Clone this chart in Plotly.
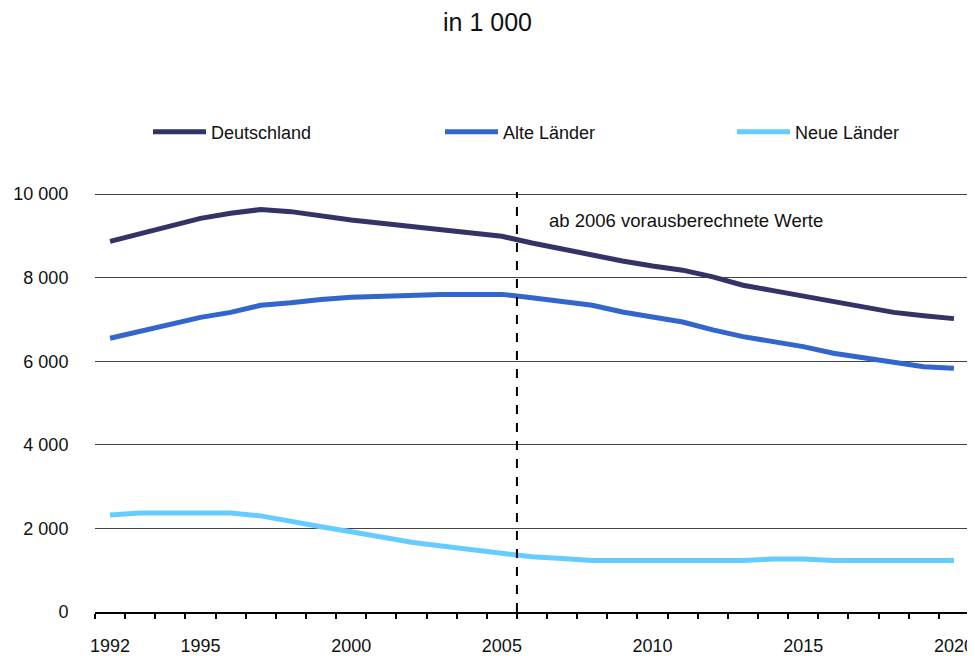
import plotly.graph_objects as go

years = list(range(1992, 2021))
deutschland = [8870, 9060, 9260, 9420, 9540, 9630, 9580, 9470, 9380, 9300, 9220, 9140, 9070,
               8990, 8830, 8680, 8540, 8400, 8280, 8180, 8020, 7820, 7690, 7560, 7420, 7290,
               7170, 7090, 7020]
alte_laender = [6550, 6710, 6880, 7050, 7170, 7340, 7400, 7480, 7530, 7560, 7560, 7600, 7600,
                7600, 7520, 7440, 7340, 7180, 7050, 6940, 6750, 6590, 6470, 6350, 6190, 6090,
                5960, 5870, 5830]
neue_laender = [2320, 2370, 2370, 2370, 2370, 2300, 2160, 2040, 1920, 1790, 1670, 1580, 1500,
                1400, 1320, 1280, 1230, 1230, 1230, 1230, 1230, 1230, 1270, 1270, 1230, 1230,
                1230, 1230, 1230]
series_names = ["Deutschland", "Alte Länder", "Neue Länder"]
series_colors = ["#333366", "#3366CC", "#66CCFF"]
x_tick_years = [1992, 1995, 2000, 2005, 2010, 2015, 2020]
y_tick_values = [0, 2000, 4000, 6000, 8000, 10000]
projection_boundary = 2005.5
projection_label = "ab 2006 vorausberechnete Werte"
title_text = "in 1 000"

FONT = "Liberation Sans, Arial, Helvetica, sans-serif"
# the page body has an 8px default margin, so the figure is sized to fit the 975x656 window
W, H = 967, 648

fig = go.Figure()
for name, vals, col in zip(series_names, [deutschland, alte_laender, neue_laender], series_colors):
    fig.add_trace(go.Scatter(x=years, y=vals, name=name, mode="lines",
                             line=dict(color=col, width=5)))

fig.add_shape(type="line", xref="x", yref="paper", x0=projection_boundary, x1=projection_boundary,
              y0=0, y1=1.0, line=dict(color="black", width=2, dash="dash"))
fig.add_annotation(x=projection_boundary + 1, y=9380, xref="x", yref="y", text=projection_label,
                   showarrow=False, xanchor="left", yanchor="middle",
                   font=dict(family=FONT, size=18.5, color="#111"))

boundaries = [y - 0.5 for y in years] + [years[-1] + 0.5]

fig.update_layout(
    width=W, height=H,
    margin=dict(l=87, r=6, t=184, b=44, autoexpand=False),
    paper_bgcolor="white", plot_bgcolor="white",
    separators=", ",
    font=dict(family=FONT, size=18, color="#111"),
    title=dict(text=title_text, x=(487.5 - 8) / W, xanchor="center", y=1 - 14 / H,
               yanchor="middle", yref="container",
               font=dict(family=FONT, size=25, color="#111")),
    showlegend=True,
    legend=dict(orientation="h", xref="container", x=140 / W, xanchor="left",
                yref="container", y=1 - 124 / H, yanchor="middle",
                entrywidth=224, entrywidthmode="pixels", itemwidth=53,
                font=dict(family=FONT, size=18, color="#111"), bgcolor="rgba(0,0,0,0)"),
    xaxis=dict(range=[years[0] - 0.5, years[-1] + 0.5], tickvals=x_tick_years,
               ticks="outside", ticklen=16, tickcolor="rgba(0,0,0,0)", automargin=False,
               showgrid=False, zeroline=False, showline=True, linecolor="black", linewidth=2,
               minor=dict(tickvals=boundaries, ticks="outside", ticklen=5, tickwidth=2,
                          tickcolor="black", showgrid=False),
               tickfont=dict(family=FONT, size=18, color="#111")),
    yaxis=dict(range=[0, 10050], tickvals=y_tick_values, tickformat=",d", automargin=False,
               ticks="outside", ticklen=22, tickcolor="rgba(0,0,0,0)",
               showgrid=True, gridcolor="#444", gridwidth=1, zeroline=False, showline=False,
               tickfont=dict(family=FONT, size=18, color="#111")),
)

fig.write_html("out.html")
